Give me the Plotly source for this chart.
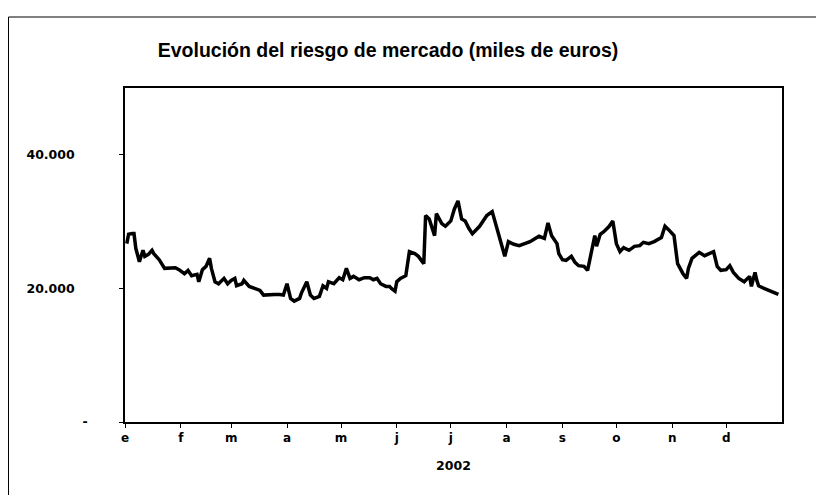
import plotly.graph_objects as go

# Data (daily market risk, thousands of euros, 2002)
dates = [
    "2002-01-02", "2002-01-03", "2002-01-05", "2002-01-06", "2002-01-07", "2002-01-09",
    "2002-01-11", "2002-01-12", "2002-01-14", "2002-01-16", "2002-01-17", "2002-01-20",
    "2002-01-23", "2002-01-26", "2002-01-29", "2002-01-31", "2002-02-03", "2002-02-05",
    "2002-02-07", "2002-02-10", "2002-02-11", "2002-02-13", "2002-02-15", "2002-02-17",
    "2002-02-18", "2002-02-20", "2002-02-22", "2002-02-25", "2002-02-27", "2002-03-01",
    "2002-03-03", "2002-03-04", "2002-03-07", "2002-03-08", "2002-03-11", "2002-03-14",
    "2002-03-17", "2002-03-19", "2002-03-22", "2002-03-25", "2002-03-28", "2002-03-30",
    "2002-04-01", "2002-04-03", "2002-04-05", "2002-04-08", "2002-04-09", "2002-04-12",
    "2002-04-14", "2002-04-16", "2002-04-19", "2002-04-21", "2002-04-23", "2002-04-24",
    "2002-04-27", "2002-04-30", "2002-05-02", "2002-05-04", "2002-05-06", "2002-05-08",
    "2002-05-11", "2002-05-14", "2002-05-17", "2002-05-19", "2002-05-21", "2002-05-23",
    "2002-05-26", "2002-05-28", "2002-05-29", "2002-05-31", "2002-06-01", "2002-06-03",
    "2002-06-06", "2002-06-08", "2002-06-11", "2002-06-13", "2002-06-16", "2002-06-17",
    "2002-06-19", "2002-06-22", "2002-06-23", "2002-06-26", "2002-06-28", "2002-07-01",
    "2002-07-03", "2002-07-05", "2002-07-07", "2002-07-09", "2002-07-11", "2002-07-13",
    "2002-07-17", "2002-07-21", "2002-07-24", "2002-07-27", "2002-07-29", "2002-07-31",
    "2002-08-02", "2002-08-05", "2002-08-08", "2002-08-14", "2002-08-19", "2002-08-22",
    "2002-08-24", "2002-08-26", "2002-08-29", "2002-08-30", "2002-09-01", "2002-09-03",
    "2002-09-06", "2002-09-08", "2002-09-10", "2002-09-13", "2002-09-15", "2002-09-17",
    "2002-09-19", "2002-09-20", "2002-09-22", "2002-09-24", "2002-09-27", "2002-09-29",
    "2002-10-01", "2002-10-03", "2002-10-05", "2002-10-08", "2002-10-11", "2002-10-14",
    "2002-10-16", "2002-10-19", "2002-10-22", "2002-10-26", "2002-10-28", "2002-10-30",
    "2002-11-02", "2002-11-04", "2002-11-07", "2002-11-09", "2002-11-10", "2002-11-12",
    "2002-11-16", "2002-11-19", "2002-11-23", "2002-11-24", "2002-11-26", "2002-11-28",
    "2002-12-01", "2002-12-03", "2002-12-05", "2002-12-08", "2002-12-11", "2002-12-14",
    "2002-12-15", "2002-12-17", "2002-12-18", "2002-12-19", "2002-12-22", "2002-12-26",
    "2002-12-30",
]
riesgo = [
    26700, 28100, 28200, 28200, 26000, 24000,
    25700, 24800, 25100, 25700, 25200, 24300,
    23000, 23000, 23100, 22800, 22200, 22700,
    21900, 22100, 21000, 22800, 23300, 24500,
    23000, 21000, 20700, 21500, 20700, 21200,
    21500, 20400, 20700, 21200, 20300, 20000,
    19700, 19000, 19100, 19100, 19100, 19000,
    20700, 18500, 18100, 18500, 19300, 21000,
    19000, 18500, 18800, 20400, 20000, 21000,
    20700, 21600, 21300, 23000, 21500, 21800,
    21300, 21600, 21600, 21300, 21500, 20700,
    20300, 20300, 20000, 19600, 21000, 21500,
    21900, 25500, 25200, 24800, 23700, 30900,
    30400, 27900, 31200, 29700, 29300, 30100,
    31900, 33100, 30400, 30100, 29000, 28200,
    29300, 30900, 31500, 28700, 26700, 24800,
    27000, 26600, 26400, 27000, 27800, 27500,
    29800, 27900, 26700, 25200, 24300, 24200,
    24800, 23900, 23400, 23300, 22700, 25200,
    27900, 26300, 28100, 28500, 29300, 30100,
    26700, 25500, 26100, 25700, 26300, 26400,
    26900, 26700, 27000, 27600, 29300, 28800,
    27900, 23700, 22200, 21500, 23000, 24500,
    25400, 24900, 25400, 25500, 23300, 22700,
    22800, 23400, 22400, 21500, 21000, 21800,
    20300, 22400, 21200, 20400, 20000, 19600,
    19100,
]

month_starts = [
    "2002-01-01", "2002-02-01", "2002-03-01", "2002-04-01", "2002-05-01", "2002-06-01",
    "2002-07-01", "2002-08-01", "2002-09-01", "2002-10-01", "2002-11-01", "2002-12-01",
]
month_labels = ["e", "f", "m", "a", "m", "j", "j", "a", "s", "o", "n", "d"]
y_tickvals = [0, 20000, 40000]
y_ticktext = ["-", "20.000", "40.000"]

title_text = "Evolución del riesgo de mercado (miles de euros)"
x_title = "2002"

NB = "\u00a0"
FONT = "DejaVu Sans, Tahoma, sans-serif"

fig = go.Figure()
fig.add_trace(go.Scatter(
    x=dates, y=riesgo, mode="lines",
    line=dict(color="black", width=3.5),
    showlegend=False, hoverinfo="skip",
))

# page body adds an 8px offset; figure coordinates are screen - 8
W, H = 816, 487
L, T = 117, 80
pw, ph = 657, 334
R, B = W - L - pw, H - T - ph

fig.update_layout(
    width=W, height=H,
    margin=dict(l=L, r=R, t=T, b=B),
    paper_bgcolor="white", plot_bgcolor="white",
    title=dict(
        text="<b>" + title_text + "</b>",
        x=380 / W, xanchor="center",
        y=1 - 42 / H, yanchor="middle",
        font=dict(family="Liberation Sans, Arial, sans-serif", size=19.5, color="black"),
    ),
    font=dict(family=FONT, color="black"),
)

fig.update_xaxes(
    type="date",
    range=["2002-01-01", "2003-01-01"],
    tickvals=month_starts,
    ticktext=["<b>" + t + "</b>" for t in month_labels],
    ticks="outside", ticklen=4, tickcolor="black", tickwidth=1,
    showline=True, linecolor="black", linewidth=1.5, mirror=True,
    showgrid=False, zeroline=False,
    tickfont=dict(size=12, family=FONT),
    title=dict(text="<b>" + x_title + "</b>", standoff=17,
               font=dict(size=12.5, family=FONT)),
)
fig.update_yaxes(
    range=[0, 50000],
    tickvals=y_tickvals,
    ticktext=["<b>" + t + (NB * 3 if t != "-" else "") + "</b>" for t in y_ticktext],
    ticks="outside", ticklen=4, tickcolor="black", tickwidth=1,
    showline=True, linecolor="black", linewidth=1.5, mirror=True,
    showgrid=False, zeroline=False,
    ticklabelstandoff=29,
    tickfont=dict(size=12.5, family=FONT),
)

# outer chart border
fig.add_shape(
    type="rect", xref="paper", yref="paper",
    x0=(0.5 - L) / pw, x1=(W - 1 - L) / pw,
    y0=(H - T - (H - 1)) / ph, y1=(H - T - 2) / ph,
    line=dict(color="black", width=1), fillcolor="rgba(0,0,0,0)",
    layer="below",
)

fig.write_html("out.html")
